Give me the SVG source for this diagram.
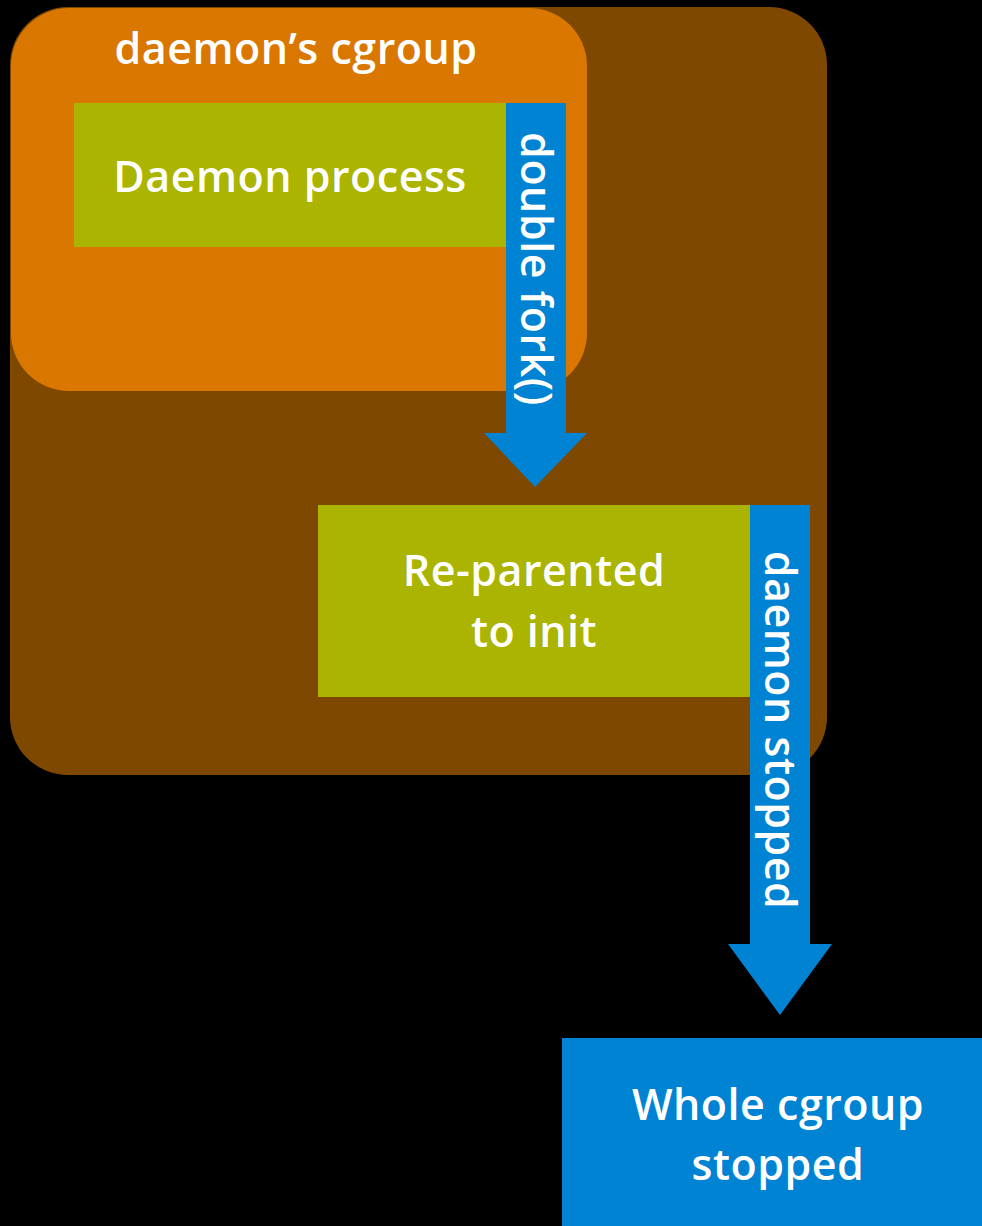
<svg xmlns="http://www.w3.org/2000/svg" width="982" height="1226" viewBox="0 0 982 1226">
  <style>
    .lbl { font-family: "Open Sans", "Noto Sans", sans-serif; font-size: 43px; font-weight: 600; fill: #ffffff; text-anchor: middle; letter-spacing: 0.5px; }
    .green { fill: #abb400; }
    .blue { fill: #0083d2; }
  </style>
  <rect x="0" y="0" width="982" height="1226" fill="#000000"/>

  <!-- outer host group -->
  <g id="host">
    <rect x="10" y="7" width="817" height="768" rx="58" ry="58" fill="#7f4800"/>
  </g>

  <!-- daemon's cgroup -->
  <g id="daemon-cgroup">
    <rect x="11" y="8" width="576" height="383" rx="58" ry="58" fill="#d97700"/>
    <text class="lbl" x="296" y="64">daemon’s cgroup</text>
  </g>

  <g id="daemon-process">
    <rect class="green" x="74" y="103" width="432" height="144"/>
    <text class="lbl" x="290" y="192">Daemon process</text>
  </g>

  <g id="reparented">
    <rect class="green" x="318" y="505" width="432" height="192"/>
    <text class="lbl" x="534" y="586">Re-parented</text>
    <text class="lbl" x="534" y="647">to init</text>
  </g>

  <g id="whole-cgroup">
    <rect class="blue" x="562" y="1038" width="420" height="188"/>
    <text class="lbl" x="778" y="1120">Whole cgroup</text>
    <text class="lbl" x="778" y="1180">stopped</text>
  </g>

  <!-- connectors: block arrows with vertical labels -->
  <g id="connectors">
    <g id="double-fork">
      <polygon class="blue" points="506,103 566,103 566,433 587,433 535,487 484,433 506,433"/>
      <text class="lbl" transform="translate(536,269) rotate(90)" x="0" y="15">double fork()</text>
    </g>
    <g id="daemon-stopped">
      <polygon class="blue" points="750,505 810,505 810,944 832,944 780,1015 728,944 750,944"/>
      <text class="lbl" transform="translate(780,730) rotate(90)" x="0" y="15">daemon stopped</text>
    </g>
  </g>
</svg>
